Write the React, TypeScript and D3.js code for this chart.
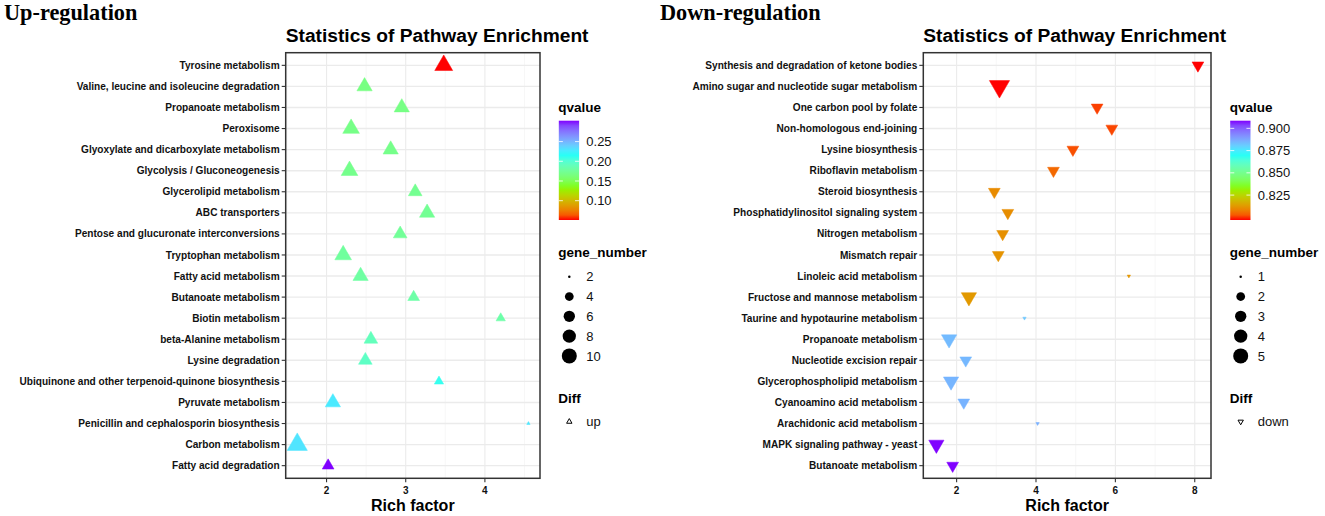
import React, { useRef, useEffect } from 'react';
import * as d3 from 'd3';

// ---- up-regulated pathways (top to bottom) ----
const upPathways = [
  "Tyrosine metabolism",
  "Valine, leucine and isoleucine degradation",
  "Propanoate metabolism",
  "Peroxisome",
  "Glyoxylate and dicarboxylate metabolism",
  "Glycolysis / Gluconeogenesis",
  "Glycerolipid metabolism",
  "ABC transporters",
  "Pentose and glucuronate interconversions",
  "Tryptophan metabolism",
  "Fatty acid metabolism",
  "Butanoate metabolism",
  "Biotin metabolism",
  "beta-Alanine metabolism",
  "Lysine degradation",
  "Ubiquinone and other terpenoid-quinone biosynthesis",
  "Pyruvate metabolism",
  "Penicillin and cephalosporin biosynthesis",
  "Carbon metabolism",
  "Fatty acid degradation"
];
const upRichFactor = [3.48, 2.48, 2.95, 2.31, 2.81, 2.29, 3.12, 3.27, 2.93, 2.21, 2.43, 3.10, 4.20, 2.56, 2.49, 3.42, 2.08, 4.55, 1.63, 2.02];
const upQvalue = [0.051, 0.166, 0.167, 0.168, 0.169, 0.170, 0.172, 0.173, 0.175, 0.177, 0.179, 0.181, 0.182, 0.190, 0.194, 0.212, 0.228, 0.229, 0.230, 0.303];
const upGeneNumber = [8, 6, 6, 7, 6, 7, 5, 6, 5, 7, 6, 4, 3, 5, 5, 3, 6, 2, 10, 4];
const upXTicks = [2, 3, 4];
const upQTicks = [0.10, 0.15, 0.20, 0.25];
const upSizeBreaks = [2, 4, 6, 8, 10];

// ---- down-regulated pathways (top to bottom) ----
const downPathways = [
  "Synthesis and degradation of ketone bodies",
  "Amino sugar and nucleotide sugar metabolism",
  "One carbon pool by folate",
  "Non-homologous end-joining",
  "Lysine biosynthesis",
  "Riboflavin metabolism",
  "Steroid biosynthesis",
  "Phosphatidylinositol signaling system",
  "Nitrogen metabolism",
  "Mismatch repair",
  "Linoleic acid metabolism",
  "Fructose and mannose metabolism",
  "Taurine and hypotaurine metabolism",
  "Propanoate metabolism",
  "Nucleotide excision repair",
  "Glycerophospholipid metabolism",
  "Cyanoamino acid metabolism",
  "Arachidonic acid metabolism",
  "MAPK signaling pathway - yeast",
  "Butanoate metabolism"
];
const downRichFactor = [8.08, 3.08, 5.54, 5.91, 4.93, 4.44, 2.95, 3.29, 3.16, 3.05, 6.34, 2.31, 3.71, 1.81, 2.23, 1.86, 2.18, 4.04, 1.49, 1.90];
const downQvalue = [0.797, 0.797, 0.800, 0.8005, 0.8015, 0.8045, 0.810, 0.8105, 0.811, 0.8115, 0.812, 0.8125, 0.882, 0.884, 0.8845, 0.885, 0.8855, 0.886, 0.9085, 0.9086];
const downGeneNumber = [2, 5, 2, 2, 2, 2, 2, 2, 2, 2, 1, 3, 1, 3, 2, 3, 2, 1, 3, 2];
const downXTicks = [2, 4, 6, 8];
const downQTicks = [0.825, 0.850, 0.875, 0.900];
const downSizeBreaks = [1, 2, 3, 4, 5];

const rainbow4 = ["#FF0000", "#80FF00", "#00FFFF", "#8000FF"];
const SANS = "'Liberation Sans', Arial, Helvetica, sans-serif";
const SERIF = "'Liberation Serif', 'Times New Roman', serif";

// R-style triangle (pch 24 / 25), size in ggplot units
const triPath = (cx: number, cy: number, s: number, up: boolean) => {
  const R = 1.25 * s;
  const r = 1.555 * R;
  const xc = r * 0.866;
  const yc = r * 0.5;
  return up
    ? `M${cx},${cy - r}L${cx + xc},${cy + yc}L${cx - xc},${cy + yc}Z`
    : `M${cx},${cy + r}L${cx + xc},${cy - yc}L${cx - xc},${cy - yc}Z`;
};

type Spec = {
  id: string;
  names: string[];
  rich: number[];
  q: number[];
  genes: number[];
  xTicks: number[];
  qTicks: number[];
  sizeBreaks: number[];
  qFormat: (v: number) => string;
  diff: string;
  up: boolean;
  heading: string;
  headingX: number;
  left: number;
  right: number;
  legendX: number;
};

const top = 52.7;
const bottom = 478.3;

function drawPanel(svg: d3.Selection<SVGSVGElement, unknown, null, undefined>, sp: Spec) {
  const g = svg.append("g");
  const [rmin, rmax] = d3.extent(sp.rich) as [number, number];
  const pad = (rmax - rmin) * 0.05;
  const x = d3.scaleLinear().domain([rmin - pad, rmax + pad]).range([sp.left, sp.right]);
  const y = d3.scalePoint<string>().domain(sp.names).range([top, bottom]).padding(0.6);

  const [qmin, qmax] = d3.extent(sp.q) as [number, number];
  const color = d3.scaleLinear<string>()
    .domain([qmin, qmin + (qmax - qmin) / 3, qmin + 2 * (qmax - qmin) / 3, qmax])
    .range(rainbow4)
    .interpolate(d3.interpolateLab);

  const [gmin, gmax] = d3.extent(sp.genes) as [number, number];
  const sizeOf = (v: number) => 1 + 5 * Math.sqrt((v - gmin) / (gmax - gmin));

  // grid
  const step = sp.xTicks[1] - sp.xTicks[0];
  const [d0, d1] = x.domain();
  const minors = d3.range(sp.xTicks[0] - step / 2, d1, step).filter(v => v > d0 && v < d1);
  g.selectAll(".minor").data(minors).enter().append("line")
    .attr("x1", d => x(d)).attr("x2", d => x(d)).attr("y1", top).attr("y2", bottom)
    .attr("stroke", "#F3F3F3").attr("stroke-width", 0.7);
  g.selectAll(".vmajor").data(sp.xTicks).enter().append("line")
    .attr("x1", d => x(d)).attr("x2", d => x(d)).attr("y1", top).attr("y2", bottom)
    .attr("stroke", "#EBEBEB").attr("stroke-width", 1.1);
  g.selectAll(".hmajor").data(sp.names).enter().append("line")
    .attr("x1", sp.left).attr("x2", sp.right).attr("y1", d => y(d)!).attr("y2", d => y(d)!)
    .attr("stroke", "#EBEBEB").attr("stroke-width", 1.4);

  // points
  g.selectAll(".pt").data(sp.names).enter().append("path")
    .attr("d", (d, i) => triPath(x(sp.rich[i]), y(d)!, sizeOf(sp.genes[i]), sp.up))
    .attr("fill", (d, i) => color(sp.q[i]))
    .attr("stroke", (d, i) => color(sp.q[i]))
    .attr("stroke-width", 0.5);

  // border
  g.append("rect")
    .attr("x", sp.left).attr("y", top)
    .attr("width", sp.right - sp.left).attr("height", bottom - top)
    .attr("fill", "none").attr("stroke", "#333").attr("stroke-width", 1.5);

  // y axis
  g.selectAll(".ytick").data(sp.names).enter().append("line")
    .attr("x1", sp.left - 4).attr("x2", sp.left).attr("y1", d => y(d)!).attr("y2", d => y(d)!)
    .attr("stroke", "#333").attr("stroke-width", 1.1);
  g.selectAll(".ylab").data(sp.names).enter().append("text")
    .attr("x", sp.left - 6).attr("y", d => y(d)! + 3.6)
    .attr("text-anchor", "end")
    .attr("font-family", SANS).attr("font-weight", "bold").attr("font-size", 10.1)
    .attr("fill", "#111")
    .text(d => d);

  // x axis
  g.selectAll(".xtick").data(sp.xTicks).enter().append("line")
    .attr("x1", d => x(d)).attr("x2", d => x(d)).attr("y1", bottom).attr("y2", bottom + 4)
    .attr("stroke", "#333").attr("stroke-width", 1.1);
  g.selectAll(".xlab").data(sp.xTicks).enter().append("text")
    .attr("x", d => x(d)).attr("y", 494)
    .attr("text-anchor", "middle")
    .attr("font-family", SANS).attr("font-weight", "bold").attr("font-size", 10)
    .attr("fill", "#111")
    .text(d => String(d));
  g.append("text")
    .attr("x", (sp.left + sp.right) / 2).attr("y", 510.7)
    .attr("text-anchor", "middle")
    .attr("font-family", SANS).attr("font-weight", "bold").attr("font-size", 16)
    .attr("fill", "#000")
    .text("Rich factor");

  // titles
  g.append("text")
    .attr("x", sp.left).attr("y", 41.5)
    .attr("font-family", SANS).attr("font-weight", "bold").attr("font-size", 19.2)
    .attr("fill", "#000")
    .text("Statistics of Pathway Enrichment");
  g.append("text")
    .attr("x", sp.headingX).attr("y", 20)
    .attr("font-family", SERIF).attr("font-weight", "bold").attr("font-size", 22.3)
    .attr("fill", "#000")
    .text(sp.heading);

  // ---- legends ----
  const lx = sp.legendX;
  const barTop = 120.7, barBottom = 220, barW = 20.3;
  const lg = g.append("g");
  lg.append("text").attr("x", lx).attr("y", 112.3)
    .attr("font-family", SANS).attr("font-weight", "bold").attr("font-size", 13.5)
    .text("qvalue");

  const grad = svg.append("defs").append("linearGradient")
    .attr("id", `grad-${sp.id}`)
    .attr("x1", 0).attr("y1", 1).attr("x2", 0).attr("y2", 0);
  d3.range(0, 1.0001, 0.05).forEach(t => {
    grad.append("stop").attr("offset", t).attr("stop-color", color(qmin + t * (qmax - qmin)));
  });
  lg.append("rect").attr("x", lx + 0.5).attr("y", barTop)
    .attr("width", barW).attr("height", barBottom - barTop)
    .attr("fill", `url(#grad-${sp.id})`);
  const qy = d3.scaleLinear().domain([qmin, qmax]).range([barBottom, barTop]);
  sp.qTicks.forEach(t => {
    const ty = qy(t);
    lg.append("line").attr("x1", lx + 0.5).attr("x2", lx + 0.5 + barW / 5).attr("y1", ty).attr("y2", ty)
      .attr("stroke", "#fff").attr("stroke-width", 0.8);
    lg.append("line").attr("x1", lx + 0.5 + barW * 4 / 5).attr("x2", lx + 0.5 + barW).attr("y1", ty).attr("y2", ty)
      .attr("stroke", "#fff").attr("stroke-width", 0.8);
    lg.append("text").attr("x", lx + 28).attr("y", ty + 4.6)
      .attr("font-family", SANS).attr("font-size", 13).attr("fill", "#111")
      .text(sp.qFormat(t));
  });

  lg.append("text").attr("x", lx).attr("y", 257.3)
    .attr("font-family", SANS).attr("font-weight", "bold").attr("font-size", 13.5)
    .text("gene_number");
  sp.sizeBreaks.forEach((b, i) => {
    const ky = 276.7 + i * 19.8;
    lg.append("circle").attr("cx", lx + 11).attr("cy", ky).attr("r", 1.25 * sizeOf(b)).attr("fill", "#000");
    lg.append("text").attr("x", lx + 28).attr("y", ky + 4.6)
      .attr("font-family", SANS).attr("font-size", 13).attr("fill", "#111")
      .text(String(b));
  });

  lg.append("text").attr("x", lx).attr("y", 402.7)
    .attr("font-family", SANS).attr("font-weight", "bold").attr("font-size", 13.5)
    .text("Diff");
  lg.append("path").attr("d", triPath(lx + 11, 421.7, 1.6, sp.up))
    .attr("fill", "none").attr("stroke", "#000").attr("stroke-width", 1);
  lg.append("text").attr("x", lx + 28).attr("y", 421.7 + 4.6)
    .attr("font-family", SANS).attr("font-size", 13).attr("fill", "#111")
    .text(sp.diff);
}

const App: React.FC = () => {
  const svgRef = useRef<SVGSVGElement>(null);

  useEffect(() => {
    if (!svgRef.current) return;
    const svg = d3.select(svgRef.current);
    svg.selectAll("*").remove();

    drawPanel(svg, {
      id: "up",
      names: upPathways, rich: upRichFactor, q: upQvalue, genes: upGeneNumber,
      xTicks: upXTicks, qTicks: upQTicks, sizeBreaks: upSizeBreaks,
      qFormat: d3.format(".2f"),
      diff: "up", up: true,
      heading: "Up-regulation", headingX: 4,
      left: 285.7, right: 540, legendX: 558.3
    });
    drawPanel(svg, {
      id: "down",
      names: downPathways, rich: downRichFactor, q: downQvalue, genes: downGeneNumber,
      xTicks: downXTicks, qTicks: downQTicks, sizeBreaks: downSizeBreaks,
      qFormat: d3.format(".3f"),
      diff: "down", up: false,
      heading: "Down-regulation", headingX: 660,
      left: 923.3, right: 1211, legendX: 1229.7
    });
  }, []);

  return (
    <div style={{ position: 'absolute', left: 0, top: 0, background: '#fff' }}>
      <svg ref={svgRef} width={1325} height={516} style={{ display: 'block' }}></svg>
    </div>
  );
};

export default App;
